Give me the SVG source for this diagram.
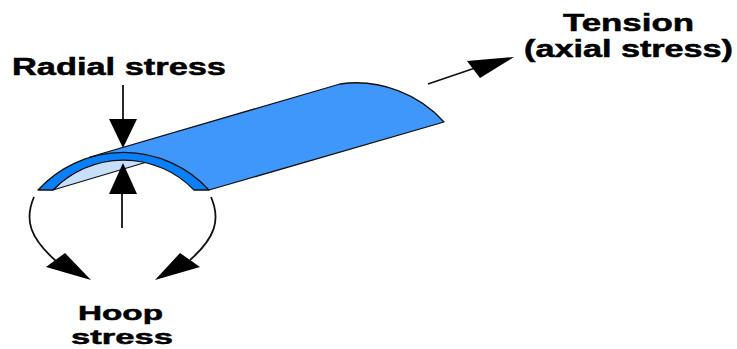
<svg xmlns="http://www.w3.org/2000/svg" width="737" height="349" viewBox="0 0 737 349">
<style>
.t{font-family:"Liberation Sans",Arial,sans-serif;font-weight:bold;font-size:23px;fill:#000;stroke:#000;stroke-width:.5}
.s{font-size:21px}
.e{stroke:#111;stroke-width:1.8;fill:none}
.h{fill:#000;stroke:none}
.o{stroke:#111;stroke-width:1.3;stroke-linejoin:round}
</style>
<rect width="737" height="349" fill="#fff"/>
<g id="pipe">
<path class="o" fill="#3f97fb" d="M90 157L340 84C380 78 420 95 444 122L209 190L150 160Z"/>
<path class="o" fill="#c5dffc" d="M53 190L147 162A98 98 0 0 0 53 190Z"/>
<path class="o" fill="#0a80f8" d="M38 190A116 116 0 0 1 209 190H194A98 98 0 0 0 53 190Z"/>
</g>
<g id="connectors">
<path class="e" d="M123 85V121"/><path class="h" d="M109 119H137L123 148Z"/>
<path class="e" d="M122 228V193"/><path class="h" d="M109 194H137L123 163Z"/>
<path class="e" d="M34 197C24 220 30 238 56 261"/><path class="h" d="M91 280L46 267L65 253Z"/>
<path class="e" d="M211 197C221 220 215 238 190 260"/><path class="h" d="M155 280L180 253L200 267Z"/>
<path class="e" d="M428 84L478 67"/><path class="h" d="M514 57L467 61L480 78Z"/>
</g>
<g id="label-radial"><text class="t" x="12" y="75" textLength="214" lengthAdjust="spacingAndGlyphs">Radial stress</text></g>
<g id="label-tension">
<text class="t" x="563" y="31" textLength="131" lengthAdjust="spacingAndGlyphs">Tension</text>
<text class="t" x="524" y="57" textLength="209" lengthAdjust="spacingAndGlyphs">(axial stress)</text>
</g>
<g id="label-hoop">
<text class="t s" x="78" y="320" textLength="85" lengthAdjust="spacingAndGlyphs">Hoop</text>
<text class="t s" x="71" y="344" textLength="102" lengthAdjust="spacingAndGlyphs">stress</text>
</g>
</svg>
